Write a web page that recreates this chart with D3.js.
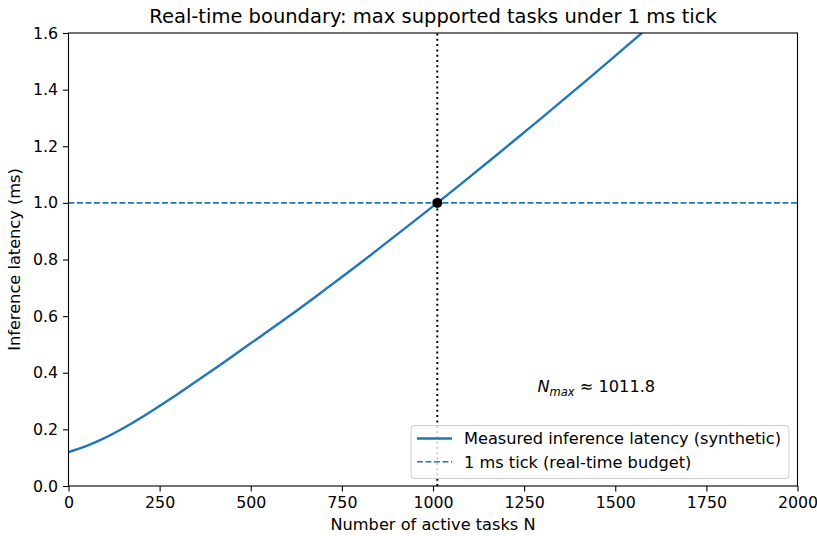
<!DOCTYPE html>
<html>
<head>
<meta charset="utf-8">
<script src="https://cdn.jsdelivr.net/npm/d3@7"></script>
<style>
  html, body { margin: 0; padding: 0; background: #fff; }
  svg { display: block; font-family: "DejaVu Sans", sans-serif; }
</style>
</head>
<body>
<svg id="chart" width="817" height="536"></svg>
<script>
// Measured latency samples (N tasks -> ms)
const taskCounts = [0, 50, 100, 150, 200, 250, 300, 350, 400, 450, 500, 600, 700, 800, 900, 1011.8, 1100, 1200, 1300, 1400, 1500, 1600];
const latencyMs  = [0.120, 0.142, 0.170, 0.204, 0.242, 0.283, 0.325, 0.369, 0.413, 0.458, 0.504, 0.595, 0.690, 0.787, 0.887, 1.000, 1.091, 1.196, 1.302, 1.410, 1.519, 1.630];

const tickBudget = 1.0;       // 1 ms real-time tick
const nMax = 1011.8;          // crossing point

const xTicks = [0, 250, 500, 750, 1000, 1250, 1500, 1750, 2000];
const yTicks = [0.0, 0.2, 0.4, 0.6, 0.8, 1.0, 1.2, 1.4, 1.6];

const titleText = "Real-time boundary: max supported tasks under 1 ms tick";
const xLabelText = "Number of active tasks N";
const yLabelText = "Inference latency (ms)";
const legendLabels = ["Measured inference latency (synthetic)", "1 ms tick (real-time budget)"];

const blue = "#1f77b4";
const margin = { left: 68.5, right: 817 - 797.5, top: 33, bottom: 536 - 486 };
const W = 817, H = 536;
const FS = 16.2;      // labels, legend, annotation
const TICK_FS = 15.8; // tick labels

const svg = d3.select("#chart");
const x = d3.scaleLinear().domain([0, 2000]).range([margin.left, W - margin.right]);
const y = d3.scaleLinear().domain([0, 1.6]).range([H - margin.bottom, margin.top]);

svg.append("defs").append("clipPath").attr("id", "plotClip")
  .append("rect")
  .attr("x", x(0)).attr("y", y(1.6))
  .attr("width", x(2000) - x(0)).attr("height", y(0) - y(1.6));

const plot = svg.append("g").attr("clip-path", "url(#plotClip)");

// latency curve
const pts = taskCounts.map((n, i) => [n, latencyMs[i]]);
plot.append("path")
  .datum(pts)
  .attr("fill", "none")
  .attr("stroke", blue)
  .attr("stroke-width", 2.4)
  .attr("stroke-linejoin", "round")
  .attr("d", d3.line().x(d => x(d[0])).y(d => y(d[1])).curve(d3.curveNatural));

// budget line
plot.append("line")
  .attr("x1", x(0)).attr("x2", x(2000))
  .attr("y1", y(tickBudget)).attr("y2", y(tickBudget))
  .attr("stroke", blue).attr("stroke-width", 1.6)
  .attr("stroke-dasharray", "5.9,2.6");

// N_max marker line
plot.append("line")
  .attr("x1", x(nMax)).attr("x2", x(nMax))
  .attr("y1", y(0)).attr("y2", y(1.6))
  .attr("stroke", "#000").attr("stroke-width", 2)
  .attr("stroke-dasharray", "2,3.3");

plot.append("circle")
  .attr("cx", x(nMax)).attr("cy", y(tickBudget)).attr("r", 5)
  .attr("fill", "#000");

// axes
const xAxis = d3.axisBottom(x).tickValues(xTicks).tickFormat(d3.format("d")).tickSize(5.5).tickPadding(5);
const yAxis = d3.axisLeft(y).tickValues(yTicks).tickFormat(d3.format(".1f")).tickSize(5.5).tickPadding(5);

const gx = svg.append("g").attr("transform", `translate(0,${y(0)})`).call(xAxis);
const gy = svg.append("g").attr("transform", `translate(${x(0)},0)`).call(yAxis);
[gx, gy].forEach(g => {
  g.select(".domain").remove();
  g.selectAll(".tick line").attr("stroke", "#000").attr("stroke-width", 1.1);
  g.selectAll(".tick text").attr("fill", "#000").style("font-size", TICK_FS + "px").style("font-family", "DejaVu Sans");
});

// frame
svg.append("rect")
  .attr("x", x(0)).attr("y", y(1.6))
  .attr("width", x(2000) - x(0)).attr("height", y(0) - y(1.6))
  .attr("fill", "none").attr("stroke", "#000").attr("stroke-width", 1.1);

// title and labels
svg.append("text")
  .attr("x", (x(0) + x(2000)) / 2).attr("y", 23)
  .attr("text-anchor", "middle")
  .style("font-size", "19.5px")
  .text(titleText);

svg.append("text")
  .attr("x", (x(0) + x(2000)) / 2).attr("y", 530)
  .attr("text-anchor", "middle")
  .style("font-size", FS + "px")
  .text(xLabelText);

svg.append("text")
  .attr("transform", `translate(20,${(y(0) + y(1.6)) / 2}) rotate(-90)`)
  .attr("text-anchor", "middle")
  .style("font-size", FS + "px")
  .text(yLabelText);

// N_max annotation
const ann = svg.append("text")
  .attr("x", 537.5).attr("y", 392)
  .style("font-size", FS + "px");
ann.append("tspan").style("font-style", "italic").text("N");
ann.append("tspan").style("font-style", "italic").style("font-size", "11.5px").attr("dy", 3.5).text("max");
ann.append("tspan").attr("dy", -3.5).text(" \u2248 " + nMax.toFixed(1));

// legend
const lg = svg.append("g");
lg.append("rect")
  .attr("x", 411).attr("y", 425.5).attr("width", 378).attr("height", 53).attr("rx", 3.5)
  .attr("fill", "#fff").attr("fill-opacity", 0.8)
  .attr("stroke", "#ccc").attr("stroke-width", 1);
const legendStyles = [
  { dash: null, w: 2.4 },
  { dash: "5.9,2.6", w: 1.6 }
];
legendLabels.forEach((lab, i) => {
  const ly = 438.5 + i * 23.3;
  lg.append("line")
    .attr("x1", 417).attr("x2", 452).attr("y1", ly).attr("y2", ly)
    .attr("stroke", blue).attr("stroke-width", legendStyles[i].w)
    .attr("stroke-dasharray", legendStyles[i].dash);
  lg.append("text")
    .attr("x", 464).attr("y", ly + 5.8)
    .style("font-size", FS + "px")
    .text(lab);
});
</script>
</body>
</html>
